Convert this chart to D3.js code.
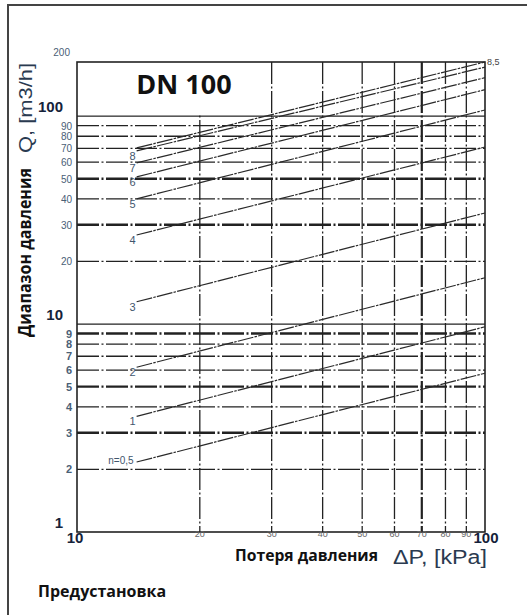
<!DOCTYPE html>
<html>
<head>
<meta charset="utf-8">
<script src="https://cdn.jsdelivr.net/npm/d3@7"></script>
<style>
  body { margin: 0; background: #fff; }
  svg { display: block; }
</style>
</head>
<body>
<div id="chart"></div>
<script>
// Presetting curves: flow at the left end (dP = 14 kPa) and at dP = 100 kPa
const presetNames = ['n=0,5', '1', '2', '3', '4', '5', '6', '7', '8', '8,5'];
const dpEnds = [14, 100];
const flowStart = [2.17, 3.6, 6.2, 12.8, 26.8, 40, 51, 59.6, 68, 70.3];
const flowEnd = [5.8, 9.7, 16.7, 34.2, 71, 107, 134, 153, 172, 182];

// Grid / tick values
const xMinorTicks = [20, 30, 40, 50, 60, 70, 80, 90];
const xMajorTicks = [10, 100];
const yMinorTicks = [2, 3, 4, 5, 6, 7, 8, 9, 20, 30, 40, 50, 60, 70, 80, 90];
const yMajorTicks = [1, 10, 100];
const yThick = [3, 5, 9, 30, 50];
const ySolid = [10, 100];
const xThick = [70];

const W = 527, H = 615;
const plot = { left: 77, right: 485, top: 62, bottom: 532 };

const svg = d3.select('#chart').append('svg')
    .attr('width', W).attr('height', H);

// outer frame
svg.append('rect')
    .attr('x', 8).attr('y', 5).attr('width', 540).attr('height', 640)
    .attr('fill', 'none').attr('stroke', '#444').attr('stroke-width', 2);

const x = d3.scaleLog().domain([10, 100]).range([plot.left, plot.right]);
const y = d3.scaleLog().domain([1, 182]).range([plot.bottom, plot.top]);

const grid = svg.append('g');
const dash = '22,2.5,2,2.5';

// vertical grid
xMinorTicks.forEach(v => {
    grid.append('line')
        .attr('x1', x(v)).attr('x2', x(v))
        .attr('y1', plot.top).attr('y2', plot.bottom)
        .attr('stroke', '#222')
        .attr('stroke-width', xThick.includes(v) ? 2.2 : 1.3)
        .attr('stroke-dasharray', dash);
});

// horizontal grid
yMinorTicks.concat([10, 100]).forEach(v => {
    grid.append('line')
        .attr('x1', plot.left).attr('x2', plot.right)
        .attr('y1', y(v)).attr('y2', y(v))
        .attr('stroke', '#222')
        .attr('stroke-width', yThick.includes(v) ? 2.4 : 1.3)
        .attr('stroke-dasharray', ySolid.includes(v) ? null : dash);
});

// white box for the title
svg.append('rect')
    .attr('x', plot.left).attr('y', plot.top)
    .attr('width', x(30) - 4 - plot.left).attr('height', y(100) - plot.top - 1)
    .attr('fill', '#fff');

svg.append('text')
    .attr('x', 184).attr('y', 94)
    .attr('text-anchor', 'middle')
    .attr('font-family', 'Open Sans, sans-serif')
    .attr('font-weight', 700).attr('font-size', 27)
    .attr('fill', '#111')
    .text('DN 100');

// plot frame
svg.append('rect')
    .attr('x', plot.left).attr('y', plot.top)
    .attr('width', plot.right - plot.left).attr('height', plot.bottom - plot.top)
    .attr('fill', 'none').attr('stroke', '#222').attr('stroke-width', 1.6);

// presetting lines
const line = d3.line().x(d => x(d[0])).y(d => y(d[1]));
const curves = svg.append('g');
presetNames.forEach((name, i) => {
    const pts = [[dpEnds[0], flowStart[i]], [dpEnds[1], flowEnd[i]]];
    curves.append('path')
        .attr('d', line(pts))
        .attr('fill', 'none')
        .attr('stroke', '#2a2a2a')
        .attr('stroke-width', 1.2)
        .attr('stroke-dasharray', '16,1.2,2.5,1.2');
    if (name === '8,5') {
        curves.append('text')
            .attr('x', x(dpEnds[1]) + 2).attr('y', y(flowEnd[i]) + 3)
            .attr('font-family', 'Liberation Sans, Arial, sans-serif')
            .attr('font-size', 9).attr('fill', '#444')
            .text(name);
    } else {
        curves.append('text')
            .attr('x', x(dpEnds[0]) - (name.length > 1 ? 3 : 1))
            .attr('y', y(flowStart[i]) + (name.length > 1 ? 2 : 9))
            .attr('text-anchor', 'end')
            .attr('font-family', 'Liberation Sans, Arial, sans-serif')
            .attr('font-size', name.length > 1 ? 10 : 11).attr('fill', '#3f566d')
            .text(name);
    }
});

// y tick labels
const ticks = svg.append('g').attr('font-family', 'Liberation Sans, Arial, sans-serif');
yMinorTicks.forEach(v => {
    ticks.append('text')
        .attr('x', 72).attr('y', y(v) + 4)
        .attr('text-anchor', 'end')
        .attr('font-size', v < 10 ? 11 : 10)
        .attr('font-weight', v < 10 ? 700 : 400)
        .attr('fill', '#4a6076')
        .text(v);
});
ticks.append('text')
    .attr('x', 70).attr('y', plot.top - 6)
    .attr('text-anchor', 'end').attr('font-size', 10).attr('fill', '#4a6076')
    .text('200');
yMajorTicks.forEach(v => {
    ticks.append('text')
        .attr('x', 63).attr('y', y(v) - 4)
        .attr('text-anchor', 'end')
        .attr('font-size', 15).attr('font-weight', 700).attr('fill', '#15223a')
        .text(v);
});

// x tick labels
xMinorTicks.forEach(v => {
    ticks.append('text')
        .attr('x', x(v)).attr('y', plot.bottom + 5)
        .attr('text-anchor', 'middle')
        .attr('font-size', 9).attr('fill', '#666')
        .text(v);
});
xMajorTicks.forEach(v => {
    ticks.append('text')
        .attr('x', x(v) + (v === 10 ? -2 : 1)).attr('y', plot.bottom + 11)
        .attr('text-anchor', 'middle')
        .attr('font-size', 15).attr('font-weight', 700).attr('fill', '#15223a')
        .text(v);
});

// axis titles
svg.append('text')
    .attr('x', 235).attr('y', 561)
    .attr('font-family', 'Open Sans, sans-serif').attr('font-weight', 700)
    .attr('font-size', 16).attr('fill', '#111')
    .attr('textLength', 143).attr('lengthAdjust', 'spacingAndGlyphs')
    .text('Потеря давления');
svg.append('text')
    .attr('x', 393).attr('y', 564)
    .attr('font-family', 'Liberation Sans, Arial, sans-serif')
    .attr('font-size', 20).attr('fill', '#2a3a50')
    .attr('textLength', 94).attr('lengthAdjust', 'spacingAndGlyphs')
    .text('ΔP, [kPa]');

svg.append('text')
    .attr('transform', 'translate(31,337) rotate(-90)')
    .attr('font-family', 'Open Sans, sans-serif').attr('font-weight', 700)
    .attr('font-size', 17).attr('fill', '#111')
    .attr('textLength', 169).attr('lengthAdjust', 'spacingAndGlyphs')
    .text('Диапазон давления');
svg.append('text')
    .attr('transform', 'translate(32,153) rotate(-90)')
    .attr('font-family', 'Liberation Sans, Arial, sans-serif')
    .attr('font-size', 19).attr('fill', '#2a3a50')
    .attr('textLength', 90).attr('lengthAdjust', 'spacingAndGlyphs')
    .text('Q, [m3/h]');

svg.append('text')
    .attr('x', 38).attr('y', 597)
    .attr('font-family', 'Open Sans, sans-serif').attr('font-weight', 700)
    .attr('font-size', 16).attr('fill', '#111')
    .text('Предустановка');
</script>
</body>
</html>
